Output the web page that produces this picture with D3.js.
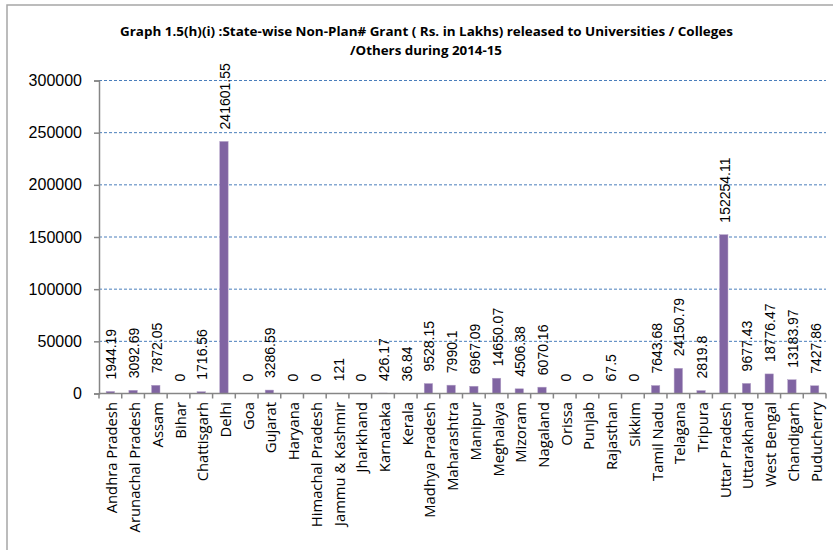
<!DOCTYPE html>
<html><head><meta charset="utf-8">
<script src="https://cdn.jsdelivr.net/npm/d3@7"></script>
<style>body{margin:0;background:#fff}svg{display:block}</style>
</head><body>
<svg id="c" width="833" height="550"></svg>
<script>
const categories = ["Andhra Pradesh","Arunachal Pradesh","Assam","Bihar","Chattisgarh","Delhi","Goa","Gujarat","Haryana","Himachal Pradesh","Jammu & Kashmir","Jharkhand","Karnataka","Kerala","Madhya Pradesh","Maharashtra","Manipur","Meghalaya","Mizoram","Nagaland","Orissa","Punjab","Rajasthan","Sikkim","Tamil Nadu","Telagana","Tripura","Uttar Pradesh","Uttarakhand","West Bengal","Chandigarh","Puducherry"];
const values = [1944.19,3092.69,7872.05,0,1716.56,241601.55,0,3286.59,0,0,121,0,426.17,36.84,9528.15,7990.1,6967.09,14650.07,4506.38,6070.16,0,0,67.5,0,7643.68,24150.79,2819.8,152254.11,9677.43,18776.47,13183.97,7427.86];
const valueLabels = ["1944.19","3092.69","7872.05","0","1716.56","241601.55","0","3286.59","0","0","121","0","426.17","36.84","9528.15","7990.1","6967.09","14650.07","4506.38","6070.16","0","0","67.5","0","7643.68","24150.79","2819.8","152254.11","9677.43","18776.47","13183.97","7427.86"];
const yTicks = [0,50000,100000,150000,200000,250000,300000];
const titleLines = ["Graph 1.5(h)(i) :State-wise Non-Plan# Grant ( Rs. in Lakhs) released to Universities / Colleges","/Others during 2014-15"];

const svg = d3.select("#c");
// outer border
svg.append("rect").attr("x",7).attr("y",5).attr("width",900).attr("height",700)
  .attr("fill","none").attr("stroke","#a6a6a6").attr("stroke-width",1.5);

const x = d3.scaleBand().domain(categories).range([99,826]).paddingInner(0.63).paddingOuter(0.315);
const y = d3.scaleLinear().domain([0,300000]).range([393.5,80.5]);

// gridlines
svg.append("g").selectAll("line").data(yTicks.filter(d=>d>0)).join("line")
  .attr("x1",99).attr("x2",826).attr("y1",d=>y(d)).attr("y2",d=>y(d))
  .attr("stroke","#4a7ebb").attr("stroke-width",1).attr("stroke-dasharray","3,2");

// y axis
const yAxis = d3.axisLeft(y).tickValues(yTicks).tickFormat(d3.format("d")).tickSize(5).tickPadding(12);
const gy = svg.append("g").attr("transform","translate(99,0)").call(yAxis);
gy.select(".domain").attr("stroke","#868686").attr("stroke-width",1.5);
gy.selectAll(".tick line").attr("stroke","#868686").attr("stroke-width",1.5);
gy.selectAll(".tick text").attr("font-family","Liberation Sans, Arial, sans-serif").attr("font-size",16).attr("fill","#000");

// bars
svg.append("g").selectAll("rect").data(values).join("rect")
  .attr("x",(d,i)=>x(categories[i])).attr("width",x.bandwidth())
  .attr("y",d=>y(d)).attr("height",d=>y(0)-y(d))
  .attr("fill","#8064a2").attr("stroke","#b3a2c7").attr("stroke-width",0.5);

// x axis
const step = x.step();
const gx = svg.append("g");
gx.append("line").attr("x1",99).attr("x2",826).attr("y1",y(0)).attr("y2",y(0))
  .attr("stroke","#868686").attr("stroke-width",1.5);
gx.selectAll("line.t").data(d3.range(categories.length+1)).join("line").attr("class","t")
  .attr("x1",i=>99+i*step).attr("x2",i=>99+i*step).attr("y1",y(0)).attr("y2",y(0)+5)
  .attr("stroke","#868686").attr("stroke-width",1.5);
gx.selectAll("text").data(categories).join("text")
  .attr("transform",d=>`translate(${x(d)+x.bandwidth()/2+1},${y(0)+8.5}) rotate(-90)`)
  .attr("text-anchor","end").attr("dominant-baseline","central")
  .attr("font-family","Open Sans, sans-serif").attr("font-size",14.8).attr("fill","#000")
  .text(d=>d);

// value labels
svg.append("g").selectAll("text").data(values).join("text")
  .attr("transform",(d,i)=>`translate(${x(categories[i])+x.bandwidth()/2+1},${y(d)-12}) rotate(-90)`)
  .attr("text-anchor","start").attr("dominant-baseline","central")
  .attr("font-family","Liberation Sans, Arial, sans-serif").attr("font-size",14).attr("fill","#000")
  .text((d,i)=>valueLabels[i]);

// title
svg.append("text").attr("x",426.5).attr("y",36).attr("text-anchor","middle")
  .attr("font-family","Open Sans, sans-serif").attr("font-weight","bold").attr("font-size",12.5)
  .attr("textLength",613).attr("lengthAdjust","spacingAndGlyphs").text(titleLines[0]);
svg.append("text").attr("x",426).attr("y",55).attr("text-anchor","middle")
  .attr("font-family","Open Sans, sans-serif").attr("font-weight","bold").attr("font-size",12.5)
  .attr("textLength",152).attr("lengthAdjust","spacingAndGlyphs").text(titleLines[1]);
</script>
</body></html>
